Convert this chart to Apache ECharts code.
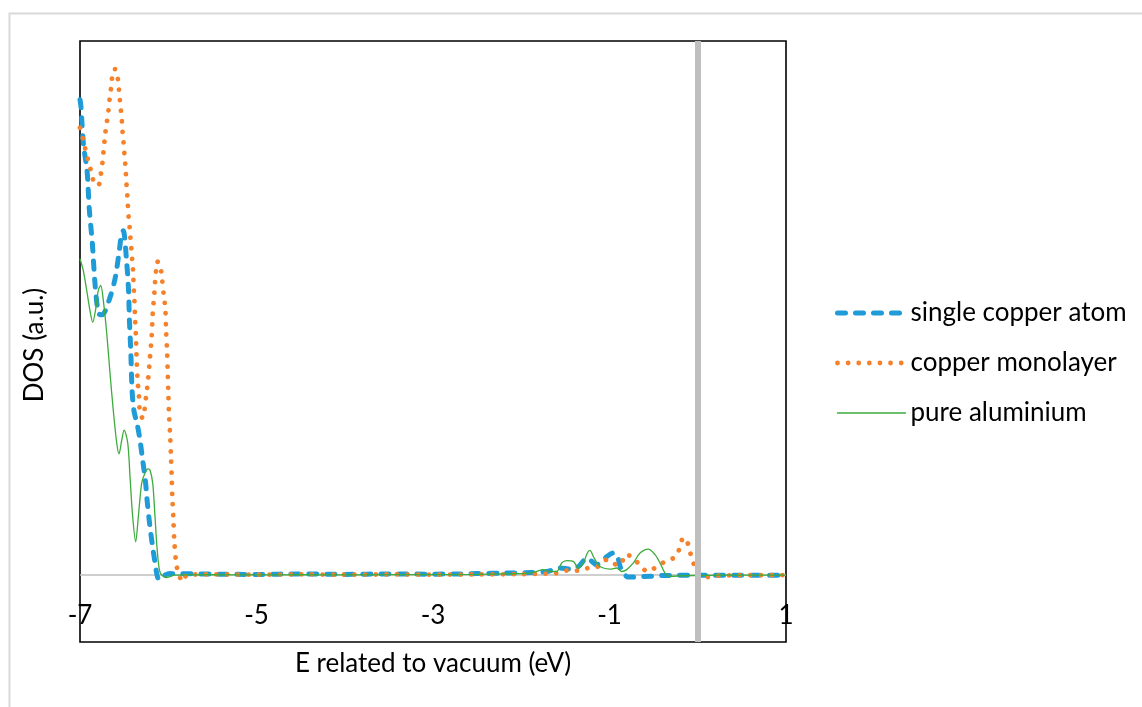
<!DOCTYPE html>
<html>
<head>
<meta charset="utf-8">
<script src="https://cdn.jsdelivr.net/npm/echarts@6/dist/echarts.min.js"></script>
<style>
html,body{margin:0;padding:0;background:#fff;}
#chart{width:1142px;height:707px;}
</style>
</head>
<body>
<div id="chart"></div>
<script>
// ---- data (energy in eV, DOS in arbitrary units) ----
var seriesNames = ['single copper atom', 'copper monolayer', 'pure aluminium'];
var xTickLabels = ['-7', '-5', '-3', '-1', '1'];
var fermiLevel = [0];
var dosBaseline = [0];

var singleAtomE = [-7.00, -6.99, -6.96, -6.92, -6.895, -6.86, -6.83, -6.79, -6.75, -6.66, -6.60, -6.55, -6.53, -6.51, -6.47, -6.45, -6.44, -6.425, -6.41, -6.39, -6.35, -6.32, -6.29, -6.26, -6.24, -6.21, -6.18, -6.15, -6.12, -6.09, -6.05, -5.98, -5.5, -5.0, -4.5, -4.0, -3.5, -3.0, -2.5, -2.2, -1.9, -1.71, -1.56, -1.45, -1.35, -1.30, -1.26, -1.20, -1.15, -1.09, -1.03, -0.96, -0.91, -0.88, -0.84, -0.79, -0.54, -0.39, 0.0, 0.5, 1.0];
var singleAtomDOS = [17.8, 17.57, 16.1, 15.14, 13.72, 12.42, 10.92, 9.80, 9.75, 10.40, 11.15, 12.27, 12.79, 12.90, 11.67, 10.66, 9.54, 8.42, 6.93, 6.18, 5.62, 5.06, 4.31, 3.57, 2.82, 1.89, 1.14, 0.47, -0.09, -0.17, -0.02, 0.06, 0.04, 0.03, 0.05, 0.03, 0.05, 0.04, 0.06, 0.08, 0.10, 0.14, 0.27, 0.23, 0.33, 0.52, 0.64, 0.52, 0.39, 0.52, 0.70, 0.83, 0.70, 0.33, 0.08, -0.07, -0.04, -0.01, 0, 0, 0];

var monolayerE = [-7.00, -6.96, -6.93, -6.90, -6.87, -6.84, -6.81, -6.785, -6.765, -6.747, -6.736, -6.713, -6.697, -6.679, -6.668, -6.652, -6.641, -6.623, -6.603, -6.577, -6.561, -6.550, -6.539, -6.527, -6.521, -6.509, -6.501, -6.490, -6.482, -6.475, -6.467, -6.459, -6.453, -6.441, -6.433, -6.422, -6.414, -6.403, -6.396, -6.392, -6.385, -6.380, -6.377, -6.365, -6.358, -6.346, -6.335, -6.320, -6.290, -6.252, -6.226, -6.207, -6.187, -6.176, -6.158, -6.150, -6.139, -6.124, -6.093, -6.074, -6.048, -6.033, -6.025, -6.014, -6.006, -5.999, -5.992, -5.980, -5.969, -5.961, -5.954, -5.943, -5.932, -5.912, -5.886, -5.836, -5.785, -5.5, -5.0, -4.5, -4.0, -3.5, -3.0, -2.5, -2.0, -1.8, -1.712, -1.592, -1.474, -1.354, -1.240, -1.127, -1.032, -0.946, -0.873, -0.824, -0.737, -0.662, -0.567, -0.465, -0.366, -0.258, -0.204, -0.164, -0.114, -0.084, -0.050, -0.003, 0.097, 0.215, 0.5, 1.0];
var monolayerDOS = [16.75, 16.26, 15.81, 15.44, 15.07, 14.69, 14.60, 14.62, 14.99, 15.40, 15.78, 16.56, 16.94, 17.35, 17.72, 18.13, 18.50, 18.91, 18.95, 18.69, 18.28, 17.87, 17.49, 17.08, 16.71, 16.30, 15.93, 15.52, 15.14, 14.73, 14.36, 13.95, 13.54, 13.16, 12.79, 12.38, 12.01, 11.59, 11.18, 10.81, 10.40, 10.03, 9.65, 8.79, 8.05, 7.23, 6.85, 6.07, 5.88, 6.66, 7.41, 8.16, 8.98, 9.80, 10.55, 10.96, 11.37, 11.74, 11.67, 11.18, 10.40, 9.99, 9.17, 8.42, 7.60, 6.81, 6.07, 5.32, 4.43, 3.68, 2.93, 2.19, 1.33, 0.50, 0.09, -0.24, 0.02, 0.03, 0.02, 0.03, 0.02, 0.03, 0.02, 0.03, 0.04, 0.05, 0.06, 0.08, 0.18, 0.17, 0.27, 0.33, 0.58, 0.42, 0.39, 0.77, 0.68, 0.39, 0.14, 0.32, 0.52, 0.68, 1.02, 1.41, 1.20, 0.83, 0.46, 0.10, -0.07, -0.02, 0, 0];

var aluminiumE = [-7.00, -6.963, -6.924, -6.887, -6.856, -6.819, -6.793, -6.765, -6.736, -6.697, -6.660, -6.623, -6.584, -6.558, -6.527, -6.500, -6.459, -6.433, -6.403, -6.369, -6.339, -6.301, -6.263, -6.229, -6.207, -6.176, -6.150, -6.125, -6.091, -6.023, -5.924, -5.5, -5.0, -4.5, -4.0, -3.5, -3.0, -2.5, -2.2, -1.9, -1.825, -1.750, -1.674, -1.598, -1.541, -1.485, -1.410, -1.354, -1.297, -1.251, -1.221, -1.183, -1.127, -1.070, -0.994, -0.918, -0.861, -0.805, -0.730, -0.654, -0.560, -0.484, -0.428, -0.371, -0.314, -0.164, 0.3, 1.0];
var aluminiumDOS = [11.85, 11.41, 10.66, 9.91, 9.47, 10.03, 10.66, 10.85, 10.29, 9.06, 7.56, 6.18, 4.95, 4.54, 5.06, 5.43, 4.95, 3.68, 2.19, 1.25, 2.19, 3.45, 3.83, 3.98, 3.94, 3.45, 2.19, 0.95, 0.09, -0.09, 0.0, 0.02, 0.01, 0.02, 0.01, 0.02, 0.02, 0.03, 0.05, 0.08, 0.14, 0.21, 0.14, 0.14, 0.46, 0.55, 0.52, 0.27, 0.46, 0.83, 0.93, 0.70, 0.39, 0.27, 0.23, 0.27, 0.14, 0.21, 0.46, 0.83, 0.98, 0.77, 0.46, 0.08, -0.04, -0.02, 0, 0];

function pairs(xs, ys) {
  var out = [];
  for (var i = 0; i < xs.length; i++) out.push([xs[i], ys[i]]);
  return out;
}

var FONT = 'Lato';
var chart = echarts.init(document.getElementById('chart'), null, {renderer: 'canvas'});
var option = {
  backgroundColor: '#ffffff',
  animation: false,
  textStyle: {fontFamily: FONT, color: '#000'},
  grid: {
    left: 80, right: 356, top: 41, bottom: 65,
    outerBoundsMode: 'none', containLabel: false,
    show: true, borderColor: '#000', borderWidth: 1.6, backgroundColor: 'transparent'
  },
  graphic: [
    {type: 'rect', left: 7, top: 11, z: -10, silent: true,
      shape: {x: 0, y: 0, width: 1300, height: 900},
      style: {fill: 'none', stroke: '#d9d9d9', lineWidth: 2}},
    {type: 'text', x: 35, y: 345, rotation: Math.PI / 2, silent: true,
      style: {text: 'DOS (a.u.)', font: '26px ' + FONT, fill: '#000', textAlign: 'center', textVerticalAlign: 'middle'}}
  ],
  legend: {
    orient: 'vertical',
    left: 835, top: 300, padding: 0,
    itemWidth: 68, itemHeight: 14, itemGap: 24,
    itemStyle: {color: 'rgba(0,0,0,0)', borderColor: 'rgba(0,0,0,0)', borderWidth: 0},
    lineStyle: {width: 'inherit', type: 'inherit', cap: 'round'},
    textStyle: {fontFamily: FONT, fontSize: 26, color: '#000'},
    data: seriesNames
  },
  xAxis: {
    type: 'value', min: -7, max: 1, interval: 2,
    name: 'E related to vacuum (eV)', nameLocation: 'middle', nameGap: 9,
    nameMoveOverlap: false,
    nameTextStyle: {fontFamily: FONT, fontSize: 26, color: '#000'},
    axisLine: {show: false, onZero: false},
    axisTick: {show: false},
    splitLine: {show: false},
    axisLabel: {
      show: true, inside: true, margin: 13, fontFamily: FONT, fontSize: 26, color: '#000',
      showMinLabel: true, showMaxLabel: true,
      formatter: function (v) {
        var idx = Math.round((v + 7) / 2);
        return xTickLabels[idx] !== undefined ? xTickLabels[idx] : '';
      }
    }
  },
  yAxis: {
    type: 'value', min: -2.5, max: 20,
    axisLine: {show: false, onZero: false},
    axisTick: {show: false},
    axisLabel: {show: false},
    splitLine: {show: false}
  },
  series: [
    {
      name: seriesNames[0], type: 'line', data: pairs(singleAtomE, singleAtomDOS),
      symbol: 'none', smooth: 0.3, z: 2,
      lineStyle: {color: '#1f9bd8', width: 5, type: [8, 10], cap: 'round', join: 'round'},
      itemStyle: {color: '#1f9bd8'},
      markLine: {
        silent: true, symbol: ['none', 'none'], z: 1,
        label: {show: false},
        lineStyle: {color: '#bfbfbf', width: 1.6, type: 'solid'},
        emphasis: {disabled: true},
        data: dosBaseline.map(function (v) { return {yAxis: v}; })
      }
    },
    {
      name: seriesNames[1], type: 'line', data: pairs(monolayerE, monolayerDOS),
      symbol: 'none', smooth: 0.3, z: 3,
      lineStyle: {color: '#f5812a', width: 4.8, type: [0.01, 10.6], cap: 'round', join: 'round'},
      itemStyle: {color: '#f5812a'},
      markLine: {
        silent: true, symbol: ['none', 'none'], z: 10,
        label: {show: false},
        lineStyle: {color: '#bfbfbf', width: 6, type: 'solid'},
        emphasis: {disabled: true},
        data: fermiLevel.map(function (v) { return {xAxis: v}; })
      }
    },
    {
      name: seriesNames[2], type: 'line', data: pairs(aluminiumE, aluminiumDOS),
      symbol: 'none', smooth: 0.3, z: 4,
      lineStyle: {color: '#3dab3d', width: 1.3},
      itemStyle: {color: '#3dab3d'}
    }
  ]
};
chart.setOption(option);
</script>
</body>
</html>
